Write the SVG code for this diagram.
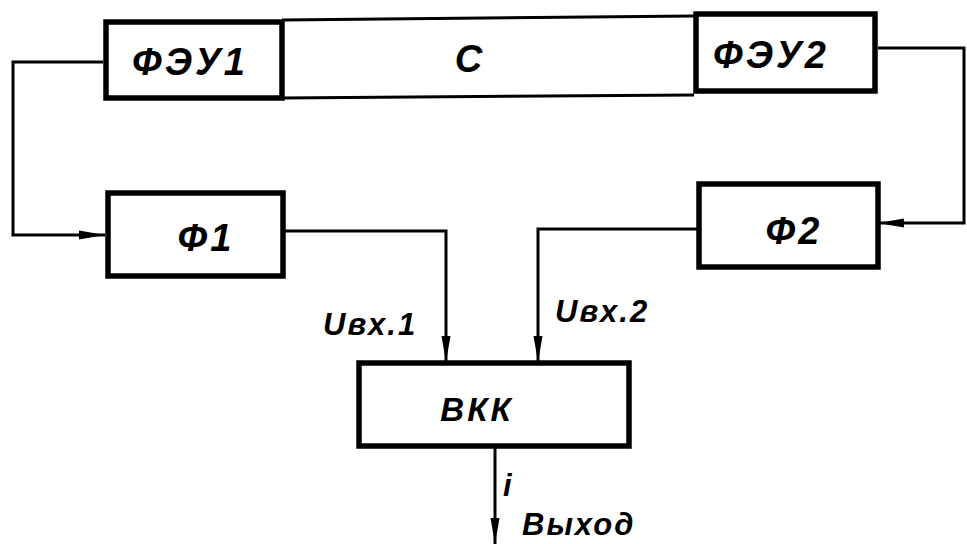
<svg xmlns="http://www.w3.org/2000/svg" width="967" height="544" viewBox="0 0 967 544">
<defs>
<marker id="arr" markerWidth="26" markerHeight="12" refX="26" refY="6" orient="auto" markerUnits="userSpaceOnUse">
<path d="M0,1.5 L26,6 L0,10.5 Z" fill="#000"/>
</marker>
<style>
.box{fill:none;stroke:#000;stroke-width:5.5}
.bar{fill:none;stroke:#000;stroke-width:3}
.ln{fill:none;stroke:#000;stroke-width:3}
.t{font-family:"Liberation Sans",Arial,sans-serif;font-style:italic;font-weight:bold;fill:#000}
.big{font-size:38px;letter-spacing:3px}
.mid{font-size:31px;letter-spacing:2px}
</style>
</defs>
<rect width="967" height="544" fill="#fff"/>
<g id="C">
<path class="bar" d="M282,20 L694,16 M282,98 L694,95"/>
<text class="t big" x="470" y="72" text-anchor="middle">С</text>
</g>
<g id="FEU1">
<rect class="box" x="106" y="22" width="176" height="76"/>
<text class="t big" x="190" y="75" text-anchor="middle">ФЭУ1</text>
</g>
<g id="FEU2">
<rect class="box" x="696" y="14" width="179" height="77"/>
<text class="t big" x="771" y="68" text-anchor="middle">ФЭУ2</text>
</g>
<g id="F1">
<rect class="box" x="108" y="193" width="175" height="83"/>
<text class="t big" x="206" y="251" text-anchor="middle">Ф1</text>
</g>
<g id="F2">
<rect class="box" x="699" y="184" width="179" height="83"/>
<text class="t big" x="794" y="244" text-anchor="middle">Ф2</text>
</g>
<g id="VKK">
<rect class="box" x="359" y="363" width="270" height="83"/>
<text class="t" style="font-size:33px;letter-spacing:3px" x="477" y="421" text-anchor="middle">ВКК</text>
</g>
<g id="connectors">
<path class="ln" d="M103,62 L13,62 L13,235 L105,235" marker-end="url(#arr)"/>
<path class="ln" d="M878,48 L964,48 L964,223 L878,223" marker-end="url(#arr)"/>
<path class="ln" d="M284,231 L446,231 L446,362" marker-end="url(#arr)"/>
<path class="ln" d="M698,229 L538,229 L538,362" marker-end="url(#arr)"/>
<path class="ln" d="M495,447 L495,544" marker-end="url(#arr)"/>
</g>
<g id="labels">
<text class="t mid" x="323" y="335">Uвх.1</text>
<text class="t mid" x="555" y="322">Uвх.2</text>
<text class="t mid" x="503" y="496">i</text>
<text class="t mid" x="522" y="535">Выход</text>
</g>
</svg>
